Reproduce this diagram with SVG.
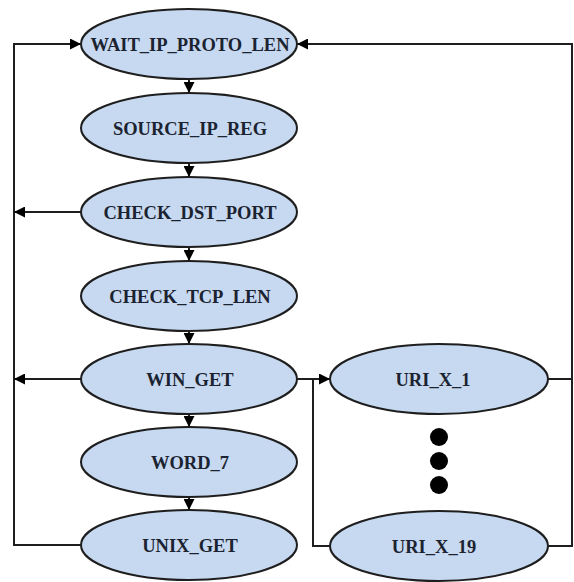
<svg xmlns="http://www.w3.org/2000/svg" width="574" height="582" viewBox="0 0 574 582">
  <style>
    .node ellipse { fill: #c6d9f0; stroke: #1e1e1e; stroke-width: 2; }
    .node text { font-family: "Liberation Serif", "Times New Roman", serif; font-weight: bold; font-size: 18.5px; fill: #1c2330; text-anchor: middle; }
    .edge { fill: none; stroke: #1e1e1e; stroke-width: 2; }
    .arrow { marker-end: url(#head); }
    .dot { fill: #000; }
  </style>
  <defs>
    <marker id="head" viewBox="0 0 10 10" refX="10" refY="5" markerUnits="userSpaceOnUse" markerWidth="14" markerHeight="11" orient="auto">
      <path d="M0,0 L10,5 L0,10 z" fill="#000"/>
    </marker>
  </defs>
  <rect width="574" height="582" fill="#fff"/>

  <g id="connectors">
    <!-- main chain -->
    <path class="edge arrow" d="M189,79 L189,93"/>
    <path class="edge arrow" d="M189,163 L189,177"/>
    <path class="edge arrow" d="M189,247 L189,261"/>
    <path class="edge arrow" d="M189,331 L189,344"/>
    <path class="edge arrow" d="M189,414 L189,427"/>
    <path class="edge arrow" d="M189,497 L189,510"/>
    <!-- left return bus -->
    <path class="edge arrow" d="M81,545 L14,545 L14,44 L81,44"/>
    <path class="edge arrow" d="M81,212 L14,212"/>
    <path class="edge arrow" d="M81,379 L14,379"/>
    <!-- URI branch -->
    <path class="edge arrow" d="M297,379 L330,379"/>
    <path class="edge" d="M313,379 L313,546 L330,546"/>
    <!-- right return bus -->
    <path class="edge" d="M548,379 L572,379"/>
    <path class="edge arrow" d="M548,546 L572,546 L572,44 L297,44"/>
  </g>

  <g id="WAIT_IP_PROTO_LEN" class="node">
    <ellipse cx="189" cy="44" rx="108" ry="35"/>
    <text x="190" y="50.5">WAIT_IP_PROTO_LEN</text>
  </g>
  <g id="SOURCE_IP_REG" class="node">
    <ellipse cx="189" cy="128" rx="108" ry="35"/>
    <text x="190" y="134.5">SOURCE_IP_REG</text>
  </g>
  <g id="CHECK_DST_PORT" class="node">
    <ellipse cx="189" cy="212" rx="108" ry="35"/>
    <text x="190" y="218.5">CHECK_DST_PORT</text>
  </g>
  <g id="CHECK_TCP_LEN" class="node">
    <ellipse cx="189" cy="296" rx="108" ry="35"/>
    <text x="190" y="302.5">CHECK_TCP_LEN</text>
  </g>
  <g id="WIN_GET" class="node">
    <ellipse cx="189" cy="379" rx="108" ry="35"/>
    <text x="190" y="385.5">WIN_GET</text>
  </g>
  <g id="WORD_7" class="node">
    <ellipse cx="189" cy="462" rx="108" ry="35"/>
    <text x="190" y="468.5">WORD_7</text>
  </g>
  <g id="UNIX_GET" class="node">
    <ellipse cx="189" cy="545" rx="108" ry="35"/>
    <text x="190" y="551.5">UNIX_GET</text>
  </g>
  <g id="URI_X_1" class="node">
    <ellipse cx="439" cy="379" rx="109" ry="35"/>
    <text x="433" y="385.5">URI_X_1</text>
  </g>
  <g id="URI_X_19" class="node">
    <ellipse cx="439" cy="546" rx="109" ry="35"/>
    <text x="434" y="552.5">URI_X_19</text>
  </g>

  <g id="ellipsis">
    <circle class="dot" cx="439" cy="437" r="9"/>
    <circle class="dot" cx="439" cy="461" r="9"/>
    <circle class="dot" cx="439" cy="485" r="9"/>
  </g>
</svg>
